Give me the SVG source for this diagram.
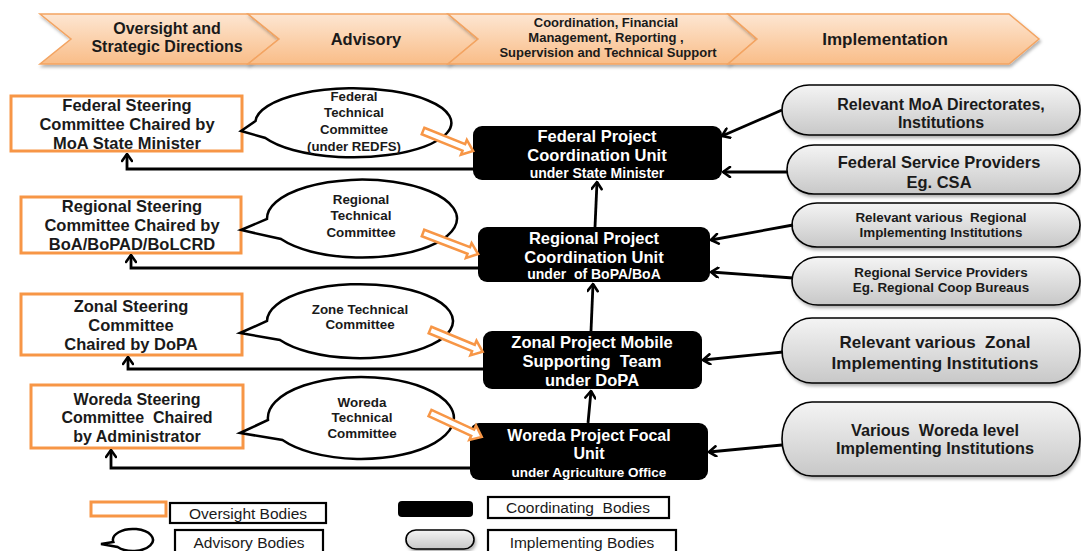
<svg xmlns="http://www.w3.org/2000/svg" width="1081" height="551" viewBox="0 0 1081 551">
<defs>
<style>
.t{font-family:"Liberation Sans",Arial,sans-serif;font-weight:700;text-anchor:middle;fill:#1a1a1a}
.w{fill:#fff}
.r{font-weight:400}
.chev{fill:url(#gChev);stroke:#f3a462;stroke-width:1.5;filter:url(#sh)}
.ov{fill:#fff;stroke:#f79646;stroke-width:3}
.bub{fill:#fff;stroke:#000;stroke-width:2.5;stroke-linejoin:miter}
.coord{fill:#000}
.pill{fill:url(#gPill);stroke:#000;stroke-width:1.6;filter:url(#sh)}
.con{fill:none;stroke:#000;stroke-width:2.8;marker-end:url(#ah)}
.harr{fill:#fff;stroke:#f79646;stroke-width:2.5;stroke-linejoin:miter}
.lab{fill:#fff;stroke:#000;stroke-width:2.2}
</style>
<linearGradient id="gChev" x1="0" y1="0" x2="0" y2="1">
<stop offset="0" stop-color="#fde6d2"/>
<stop offset="1" stop-color="#f9bd88"/>
</linearGradient>
<linearGradient id="gPill" x1="0" y1="0" x2="0" y2="1">
<stop offset="0" stop-color="#f4f4f4"/>
<stop offset="1" stop-color="#c8c8c8"/>
</linearGradient>
<filter id="sh" x="-10%" y="-20%" width="120%" height="150%">
<feDropShadow dx="1.5" dy="2.5" stdDeviation="1.5" flood-color="#000" flood-opacity="0.3"/>
</filter>
<marker id="ah" viewBox="0 0 12 12" refX="10.5" refY="6" markerWidth="12" markerHeight="12" orient="auto" markerUnits="userSpaceOnUse">
<path d="M3.5,1 L10.5,6 L3.5,11" fill="none" stroke="#000" stroke-width="2.6" stroke-linecap="round" stroke-linejoin="round"/>
</marker>
</defs>
<rect width="1081" height="551" fill="#fff"/>

<!-- Top banner -->
<g id="banner">
<g id="chev-oversight">
<path class="chev" d="M40,14 L248,14 L279,39 L248,64 L40,64 L71,39 Z"/>
<text class="t" font-size="16" x="167" y="34">Oversight and</text>
<text class="t" font-size="16" x="167" y="52">Strategic Directions</text>
</g>
<g id="chev-advisory">
<path class="chev" d="M248,14 L448,14 L478,39 L448,64 L248,64 L279,39 Z"/>
<text class="t" font-size="16.5" x="366" y="44.5">Advisory</text>
</g>
<g id="chev-coord">
<path class="chev" d="M448,14 L728,14 L757,39 L728,64 L448,64 L478,39 Z"/>
<text class="t" font-size="13" x="606" y="26.5">Coordination, Financial</text>
<text class="t" font-size="13" x="606" y="41.5">Management, Reporting ,</text>
<text class="t" font-size="13" x="608" y="56.5">Supervision and Technical Support</text>
</g>
<g id="chev-impl">
<path class="chev" d="M728,14 L1009,14 L1039,39 L1009,64 L728,64 L757,39 Z"/>
<text class="t" font-size="17" x="885" y="45">Implementation</text>
</g>
</g>

<!-- Oversight bodies -->
<g id="fed-steering">
<rect class="ov" x="11" y="96" width="231" height="55"/>
<text class="t" font-size="16.5" x="127" y="111">Federal Steering</text>
<text class="t" font-size="16.5" x="127" y="130">Committee Chaired by</text>
<text class="t" font-size="16.5" x="127" y="149">MoA State Minister</text>
</g>
<g id="reg-steering">
<rect class="ov" x="21" y="197" width="220" height="56"/>
<text class="t" font-size="16.5" x="132" y="211.7">Regional Steering</text>
<text class="t" font-size="16.5" x="132" y="230.7">Committee Chaired by</text>
<text class="t" font-size="16.5" x="132" y="249.7">BoA/BoPAD/BoLCRD</text>
</g>
<g id="zon-steering">
<rect class="ov" x="21" y="294" width="221" height="61"/>
<text class="t" font-size="16.5" x="131" y="311.7">Zonal Steering</text>
<text class="t" font-size="16.5" x="131" y="330.7">Committee</text>
<text class="t" font-size="16.5" x="131" y="349.7">Chaired by DoPA</text>
</g>
<g id="wor-steering">
<rect class="ov" x="31" y="385" width="212" height="63"/>
<text class="t" font-size="16" x="137" y="404.7">Woreda Steering</text>
<text class="t" font-size="16" x="137" y="423.2" xml:space="preserve">Committee  Chaired</text>
<text class="t" font-size="16" x="137" y="441.7">by Administrator</text>
</g>

<!-- Advisory bodies -->
<g id="fed-tech">
<path class="bub" d="M241,131 L255.5,121 A98,34.5 0 1 1 265.4,138 Z"/>
<text class="t" font-size="13.2" x="354" y="100.5">Federal</text>
<text class="t" font-size="13.2" x="354" y="117.3">Technical</text>
<text class="t" font-size="13.2" x="354" y="133.8">Committee</text>
<text class="t" font-size="13.2" x="354" y="150.5">(under REDFS)</text>
</g>
<g id="reg-tech">
<path class="bub" d="M241,230 L267,219 A95,39 0 1 1 281,239 Z"/>
<text class="t" font-size="13.4" x="361" y="203.5">Regional</text>
<text class="t" font-size="13.4" x="361" y="220.2">Technical</text>
<text class="t" font-size="13.4" x="361" y="236.8">Committee</text>
</g>
<g id="zon-tech">
<path class="bub" d="M240,333 L267,321 A93,37 0 1 1 280,340 Z"/>
<text class="t" font-size="13.4" x="360" y="313.5">Zone Technical</text>
<text class="t" font-size="13.4" x="360" y="328.8">Committee</text>
</g>
<g id="wor-tech">
<path class="bub" d="M240,433 L268,420 A93,41 0 1 1 282.5,440 Z"/>
<text class="t" font-size="13.4" x="362" y="406.5">Woreda</text>
<text class="t" font-size="13.4" x="362" y="422.2">Technical</text>
<text class="t" font-size="13.4" x="362" y="437.8">Committee</text>
</g>

<!-- Coordinating bodies -->
<g id="fed-pcu">
<rect class="coord" x="473" y="126" width="249" height="54" rx="9"/>
<text class="t w" font-size="16.5" x="597" y="141.7">Federal Project</text>
<text class="t w" font-size="16.5" x="597" y="160.7">Coordination Unit</text>
<text class="t w" font-size="14" x="597" y="177.8">under State Minister</text>
</g>
<g id="reg-pcu">
<rect class="coord" x="478" y="227" width="232" height="55" rx="9"/>
<text class="t w" font-size="16.5" x="594" y="243.7">Regional Project</text>
<text class="t w" font-size="16.5" x="594" y="262.7">Coordination Unit</text>
<text class="t w" font-size="14" x="594" y="279.2" xml:space="preserve">under  of BoPA/BoA</text>
</g>
<g id="zon-mst">
<rect class="coord" x="483" y="331" width="219" height="58" rx="9"/>
<text class="t w" font-size="16.5" x="592" y="347.7">Zonal Project Mobile</text>
<text class="t w" font-size="16.5" x="592" y="366.7" xml:space="preserve">Supporting  Team</text>
<text class="t w" font-size="16.5" x="592" y="385.7">under DoPA</text>
</g>
<g id="wor-pfu">
<rect class="coord" x="470" y="423" width="238" height="57" rx="9"/>
<text class="t w" font-size="16" x="589" y="440.7">Woreda Project Focal</text>
<text class="t w" font-size="16" x="589" y="458.9">Unit</text>
<text class="t w" font-size="13.5" x="589" y="477">under Agriculture Office</text>
</g>

<!-- Implementing bodies -->
<g id="moa-dir">
<rect class="pill" x="782" y="85" width="298" height="50" rx="27" ry="25"/>
<text class="t" font-size="16" x="941" y="110">Relevant MoA Directorates,</text>
<text class="t" font-size="16" x="941" y="128">Institutions</text>
</g>
<g id="fed-sp">
<rect class="pill" x="787" y="145" width="293" height="49" rx="27" ry="24.5"/>
<text class="t" font-size="16.5" x="939" y="167.8">Federal Service Providers</text>
<text class="t" font-size="16.5" x="939" y="187.8">Eg. CSA</text>
</g>
<g id="reg-impl">
<rect class="pill" x="792" y="203" width="288" height="44" rx="25" ry="22"/>
<text class="t" font-size="13.4" x="941" y="221.5" xml:space="preserve">Relevant various  Regional</text>
<text class="t" font-size="13.4" x="941" y="236.6">Implementing Institutions</text>
</g>
<g id="reg-sp">
<rect class="pill" x="792" y="257" width="288" height="48" rx="26" ry="24"/>
<text class="t" font-size="13.4" x="941" y="276.5">Regional Service Providers</text>
<text class="t" font-size="13.4" x="941" y="291.6">Eg. Regional Coop Bureaus</text>
</g>
<g id="zon-impl">
<rect class="pill" x="782" y="318" width="298" height="65" rx="30" ry="32.5"/>
<text class="t" font-size="17" x="935" y="347.7" xml:space="preserve">Relevant various  Zonal</text>
<text class="t" font-size="17" x="935" y="369.3">Implementing Institutions</text>
</g>
<g id="wor-impl">
<rect class="pill" x="782" y="402" width="298" height="74" rx="30" ry="37"/>
<text class="t" font-size="16.3" x="935" y="435.7" xml:space="preserve">Various  Woreda level</text>
<text class="t" font-size="16.3" x="935" y="454.2">Implementing Institutions</text>
</g>

<!-- Legend -->
<g id="legend">
<rect class="ov" x="91" y="502" width="75" height="14"/>
<rect class="lab" x="170" y="503" width="156" height="20"/>
<text class="t r" font-size="15.5" x="248" y="518.5">Oversight Bodies</text>
<path class="bub" d="M101,544 L113.3,542 A20,11 0 1 1 117.6,547 Z" stroke-width="2.2"/>
<rect class="lab" x="175" y="530" width="148" height="25"/>
<text class="t r" font-size="15.5" x="249" y="547.5">Advisory Bodies</text>
<rect class="coord" x="398" y="501" width="75" height="16" rx="4"/>
<rect class="lab" x="488" y="497" width="181" height="21"/>
<text class="t r" font-size="15.5" x="578" y="513" xml:space="preserve">Coordinating  Bodies</text>
<rect class="pill" x="406" y="530" width="68" height="19" rx="10" ry="9.5"/>
<rect class="lab" x="488" y="530" width="188" height="25"/>
<text class="t r" font-size="15.5" x="582" y="548">Implementing Bodies</text>
</g>

<!-- Connectors -->
<g id="connectors">
<path class="con" d="M473,169 H127 V154"/>
<path class="con" d="M478,268 H131 V255"/>
<path class="con" d="M483,369 H128 V357"/>
<path class="con" d="M470,468 H111 V450"/>
<path class="con" d="M595,227 L597,182"/>
<path class="con" d="M591,331 L593,284"/>
<path class="con" d="M588,423 L591,391"/>
<path class="con" d="M782,110 L722,136"/>
<path class="con" d="M787,172 L723,172"/>
<path class="con" d="M793,225 L711,240"/>
<path class="con" d="M793,278 L711,272"/>
<path class="con" d="M783,352 L703,360"/>
<path class="con" d="M782,445 L709,452"/>
<path class="harr" transform="translate(423,131) rotate(21.8)" d="M0,-3.5 H44 V-8 L54,0 L44,8 V3.5 H0 Z"/>
<path class="harr" transform="translate(423,233) rotate(20.9)" d="M0,-3.5 H49 V-8 L59,0 L49,8 V3.5 H0 Z"/>
<path class="harr" transform="translate(430,330) rotate(22.5)" d="M0,-3.5 H47 V-8 L57,0 L47,8 V3.5 H0 Z"/>
<path class="harr" transform="translate(430,413) rotate(24.8)" d="M0,-3.5 H47 V-8 L57,0 L47,8 V3.5 H0 Z"/>
</g>
</svg>
